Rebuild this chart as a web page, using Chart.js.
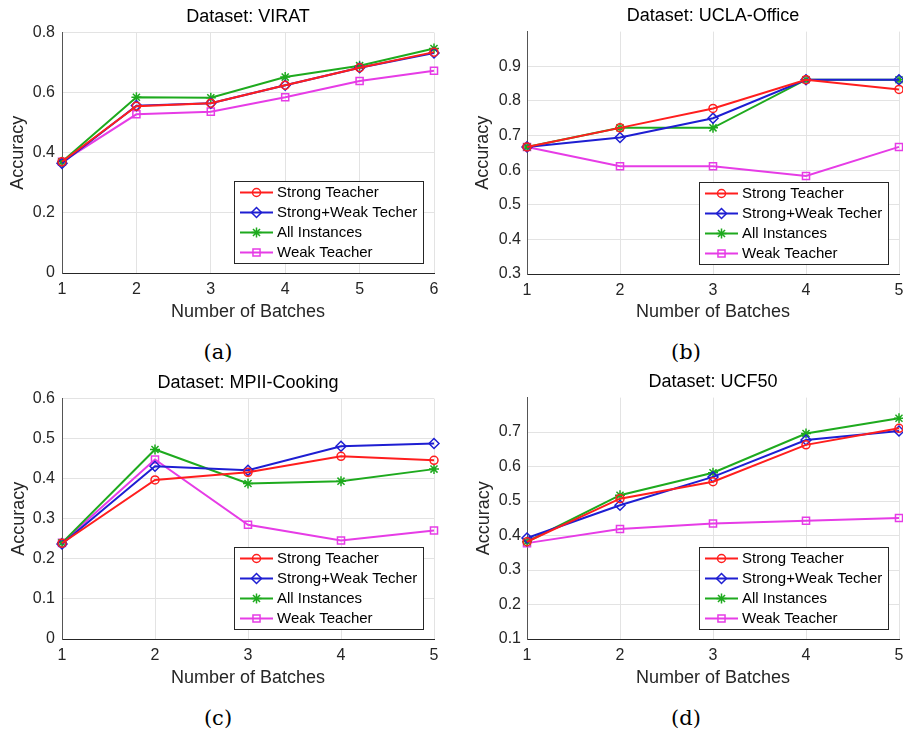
<!DOCTYPE html>
<html>
<head>
<meta charset="utf-8">
<script src="https://cdn.jsdelivr.net/npm/chart.js@4.4.1/dist/chart.umd.min.js"></script>
<style>
  body { margin: 0; background: #fff; }
  #wrap { position: relative; width: 903px; height: 735px; overflow: hidden; }
  .panel { position: absolute; }
  .cap { position: absolute; width: 60px; margin-left: -30px; text-align: center;
         font-family: "DejaVu Serif", "Liberation Serif", serif; font-size: 21px; color: #000; line-height: 24px; }
</style>
</head>
<body>
<div id="wrap">
  <div class="panel" style="left:0;top:0;width:450px;height:330px"><canvas id="chartA"></canvas></div>
  <div class="panel" style="left:450px;top:0;width:453px;height:330px"><canvas id="chartB"></canvas></div>
  <div class="panel" style="left:0;top:366px;width:450px;height:330px"><canvas id="chartC"></canvas></div>
  <div class="panel" style="left:450px;top:366px;width:453px;height:330px"><canvas id="chartD"></canvas></div>
  <div class="cap" style="left:218px;top:340px">(a)</div>
  <div class="cap" style="left:686px;top:340px">(b)</div>
  <div class="cap" style="left:218px;top:706px">(c)</div>
  <div class="cap" style="left:686px;top:706px">(d)</div>
</div>
<script>
// batches on the x axis
const batchesVirat = [1, 2, 3, 4, 5, 6]
const batches = [1, 2, 3, 4, 5]

const seriesNames = ['Strong Teacher', 'Strong+Weak Techer', 'All Instances', 'Weak Teacher']

// Dataset: VIRAT
const viratStrong     = [0.370, 0.555, 0.565, 0.625, 0.683, 0.735]
const viratStrongWeak = [0.365, 0.557, 0.565, 0.625, 0.683, 0.732]
const viratAll        = [0.370, 0.585, 0.583, 0.652, 0.690, 0.747]
const viratWeak       = [0.370, 0.528, 0.537, 0.585, 0.639, 0.673]

// Dataset: UCLA-Office
const uclaStrong     = [0.667, 0.722, 0.778, 0.861, 0.833]
const uclaStrongWeak = [0.667, 0.694, 0.750, 0.861, 0.861]
const uclaAll        = [0.667, 0.722, 0.722, 0.861, 0.861]
const uclaWeak       = [0.667, 0.611, 0.611, 0.583, 0.667]

// Dataset: MPII-Cooking
const mpiiStrong     = [0.239, 0.397, 0.416, 0.456, 0.446]
const mpiiStrongWeak = [0.237, 0.431, 0.421, 0.481, 0.488]
const mpiiAll        = [0.240, 0.473, 0.388, 0.394, 0.424]
const mpiiWeak       = [0.240, 0.448, 0.285, 0.246, 0.271]

// Dataset: UCF50
const ucfStrong     = [0.382, 0.507, 0.556, 0.663, 0.711]
const ucfStrongWeak = [0.393, 0.488, 0.570, 0.677, 0.703]
const ucfAll        = [0.382, 0.517, 0.582, 0.696, 0.740]
const ucfWeak       = [0.378, 0.419, 0.435, 0.443, 0.451]

const FONT = '"Liberation Sans", Arial, Helvetica, sans-serif'
const styles = [
  { color: 'rgb(255, 30, 30)',  pointStyle: 'circle',  radius: 4 },
  { color: 'rgb(30, 30, 210)',  pointStyle: 'rectRot', radius: 5 },
  { color: 'rgb(30, 170, 30)',  pointStyle: 'star',    radius: 5 },
  { color: 'rgb(230, 60, 230)', pointStyle: 'rect',    radius: 5 }
]

// matlab centres the title over the axes, not over the whole figure
const centerTitle = {
  id: 'centerTitle',
  afterLayout(chart) {
    if (chart.titleBlock) {
      chart.titleBlock.left = chart.chartArea.left
      chart.titleBlock.right = chart.chartArea.right
    }
  }
}

// legend drawn inside the plot, bottom right (like matlab 'southeast')
const insideLegend = {
  id: 'insideLegend',
  afterDraw(chart) {
    const { ctx, chartArea } = chart
    const w = 189, h = 82
    const x0 = Math.round(chartArea.right - 11 - w), y0 = Math.round(chartArea.bottom - 10 - h)
    ctx.save()
    ctx.fillStyle = '#fff'
    ctx.fillRect(x0, y0, w, h)
    ctx.strokeStyle = '#262626'
    ctx.lineWidth = 1
    ctx.strokeRect(x0 + 0.5, y0 + 0.5, w, h)
    ctx.font = '15px ' + FONT
    ctx.textBaseline = 'middle'
    chart.data.datasets.forEach((ds, i) => {
      const y = y0 + 11.5 + i * 20
      ctx.strokeStyle = ds.borderColor
      ctx.lineWidth = 2
      ctx.beginPath()
      ctx.moveTo(x0 + 6, y)
      ctx.lineTo(x0 + 39, y)
      ctx.stroke()
      ctx.lineWidth = 1.5
      ctx.fillStyle = 'rgba(0,0,0,0)'
      Chart.helpers.drawPoint(ctx, { pointStyle: ds.pointStyle, radius: ds.pointRadius, borderWidth: 1.5, rotation: 0 }, x0 + 22.5, y)
      ctx.fillStyle = '#000'
      ctx.fillText(ds.label, x0 + 43, y)
    })
    ctx.restore()
  }
}

function makeChart(canvasId, title, xs, values, yMin, yMax, yTopTick, g) {
  const datasets = values.map((vals, i) => ({
    label: seriesNames[i],
    data: vals.map((v, j) => ({ x: xs[j], y: v })),
    borderColor: styles[i].color,
    backgroundColor: 'rgba(0,0,0,0)',
    pointBackgroundColor: 'rgba(0,0,0,0)',
    pointBorderColor: styles[i].color,
    pointStyle: styles[i].pointStyle,
    pointRadius: styles[i].radius,
    pointBorderWidth: 1.5,
    borderWidth: 2,
    tension: 0,
    clip: false
  }))

  new Chart(document.getElementById(canvasId), {
    type: 'line',
    data: { datasets: datasets },
    options: {
      responsive: true,
      maintainAspectRatio: false,
      animation: false,
      events: [],
      layout: { autoPadding: false, padding: { left: 0, top: 0, right: g.right, bottom: 0 } },
      plugins: {
        legend: { display: false },
        tooltip: { enabled: false },
        title: {
          display: true,
          text: title,
          color: '#000',
          font: { family: FONT, size: 18, weight: 'normal' },
          padding: { top: g.titleTop, bottom: g.titleBottom }
        }
      },
      scales: {
        x: {
          type: 'linear',
          min: xs[0],
          max: xs[xs.length - 1],
          grid: { color: '#e3e3e3', lineWidth: 1, drawTicks: false },
          border: { display: true, color: '#262626', width: 1 },
          ticks: {
            stepSize: 1,
            padding: 7,
            color: '#262626',
            font: { family: FONT, size: 16 },
            maxRotation: 0,
            autoSkip: false
          },
          title: {
            display: true,
            text: 'Number of Batches',
            color: '#262626',
            font: { family: FONT, size: 18 },
            padding: { top: 0, bottom: 7 }
          },
          afterFit(scale) {
            scale.height = g.xHeight
            scale.paddingLeft = 0
            scale.paddingRight = 0
          }
        },
        y: {
          min: yMin,
          max: yMax,
          grid: { color: '#e3e3e3', lineWidth: 1, drawTicks: false },
          border: { display: true, color: '#555', width: 1 },
          ticks: {
            stepSize: g.step,
            padding: g.tickPad,
            color: '#262626',
            font: { family: FONT, size: 16 },
            callback: v => String(+v.toFixed(1))
          },
          afterBuildTicks(axis) {
            axis.ticks = axis.ticks.filter(t => t.value <= yTopTick + 1e-6)
          },
          title: {
            display: true,
            text: 'Accuracy',
            color: '#262626',
            font: { family: FONT, size: 18 },
            padding: { top: g.yTitlePad, bottom: 0 }
          },
          afterFit(scale) {
            scale.width = g.yWidth
            scale.paddingTop = 0
            scale.paddingBottom = 0
          }
        }
      }
    },
    plugins: [centerTitle, insideLegend]
  })
}

makeChart('chartA', 'Dataset: VIRAT', batchesVirat,
  [viratStrong, viratStrongWeak, viratAll, viratWeak], 0, 0.8, 0.8,
  { right: 16, titleTop: 6, titleBottom: 5, xHeight: 57, yWidth: 62, step: 0.2, tickPad: 7, yTitlePad: 7 })

makeChart('chartB', 'Dataset: UCLA-Office', batches,
  [uclaStrong, uclaStrongWeak, uclaAll, uclaWeak], 0.3, 1.0, 0.9,
  { right: 4, titleTop: 5, titleBottom: 5, xHeight: 56, yWidth: 77, step: 0.1, tickPad: 6, yTitlePad: 22 })

makeChart('chartC', 'Dataset: MPII-Cooking', batches,
  [mpiiStrong, mpiiStrongWeak, mpiiAll, mpiiWeak], 0, 0.6, 0.6,
  { right: 16, titleTop: 6, titleBottom: 5, xHeight: 57, yWidth: 62, step: 0.1, tickPad: 7, yTitlePad: 8 })

makeChart('chartD', 'Dataset: UCF50', batches,
  [ucfStrong, ucfStrongWeak, ucfAll, ucfWeak], 0.1, 0.8, 0.7,
  { right: 4, titleTop: 5, titleBottom: 5, xHeight: 57, yWidth: 77, step: 0.1, tickPad: 6, yTitlePad: 23 })
</script>
</body>
</html>
